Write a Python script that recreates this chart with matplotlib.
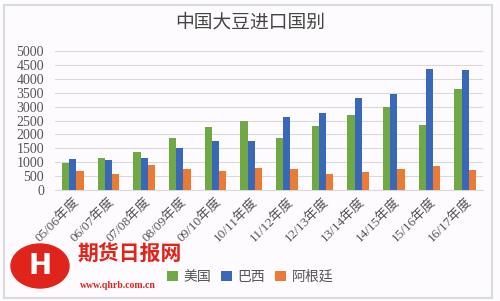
import matplotlib
matplotlib.use("Agg")
import matplotlib.pyplot as plt
import numpy as np
from matplotlib.patches import Rectangle, Ellipse

categories = ["05/06年度", "06/07年度", "07/08年度", "08/09年度", "09/10年度", "10/11年度",
              "11/12年度", "12/13年度", "13/14年度", "14/15年度", "15/16年度", "16/17年度"]
usa = [960, 1140, 1370, 1860, 2260, 2500, 1860, 2300, 2690, 2980, 2350, 3640]
brazil = [1120, 1080, 1160, 1510, 1780, 1780, 2640, 2760, 3300, 3470, 4370, 4310]
argentina = [700, 580, 900, 740, 690, 780, 770, 560, 650, 760, 850, 730]
series_names = ["美国", "巴西", "阿根廷"]
yticks = [0, 500, 1000, 1500, 2000, 2500, 3000, 3500, 4000, 4500, 5000]

colors = ["#6FA845", "#3A68B8", "#E97B35"]
cjk = ["Noto Sans CJK SC", "DejaVu Sans"]
serif_cjk = ["Liberation Serif", "Noto Sans CJK SC"]

fig = plt.figure(figsize=(5.0, 3.01), dpi=100, facecolor="#FDFBFD")
fig.patches.append(Rectangle((0.008, 0.01), 0.975, 0.975, transform=fig.transFigure,
                             fill=False, edgecolor="#D8DCE0", lw=1.5))
ax = fig.add_axes([0.11, 1 - 190/301, (483-55)/500, (190-51)/301])
ax.set_facecolor("#FDFBFD")

x = np.arange(len(categories))
w = 0.2
for i, (vals, name) in enumerate(zip([usa, brazil, argentina], series_names)):
    ax.bar(x + (i - 1) * w, vals, width=w, color=colors[i], label=name, zorder=3)

ax.set_ylim(0, 5000)
ax.set_xlim(-0.5, len(categories) - 0.5)
ax.set_yticks(yticks)
ax.set_yticklabels([str(v) for v in yticks], family=serif_cjk, fontsize=10, color="#555555")
ax.set_xticks(x)
ax.set_xticklabels(categories, rotation=45, ha="right", rotation_mode="anchor",
                   family=serif_cjk, fontsize=9.5, color="#555555")
ax.grid(axis="y", color="#D9D9D9", lw=0.8, zorder=0)
for s in ["top", "right", "left"]:
    ax.spines[s].set_visible(False)
ax.spines["bottom"].set_color("#D9D9D9")
ax.tick_params(length=0)
ax.tick_params(axis="y", pad=8)
ax.tick_params(axis="x", pad=4)

fig.text(0.5, 1 - 22/301, "中国大豆进口国别", ha="center", va="center",
         family=cjk, fontsize=13.5, color="#444444")

ax.legend(loc="center", bbox_to_anchor=(0.5, 1 - 277/301), bbox_transform=fig.transFigure,
          ncol=3, frameon=False, prop={"family": cjk, "size": 10}, handlelength=0.8,
          handleheight=0.8, columnspacing=0.7, handletextpad=0.4, labelcolor="#555555")

# watermark logo
fig.patches.append(Ellipse((40/500, 1 - 266/301), 58/500, 44/301, transform=fig.transFigure,
                           color="#E0231B", zorder=5))
fig.text(40/500, 1 - 266/301, "H", ha="center", va="center", color="white",
         fontsize=20, fontweight="bold", family="DejaVu Sans", zorder=6)
fig.text(78/500, 1 - 254/301, "期货日报网", ha="left", va="center", color="#E0231B",
         fontsize=15, fontweight="bold", family=cjk, zorder=6)
fig.text(80/500, 1 - 286/301, "www.qhrb.com.cn", ha="left", va="center", color="#E0231B",
         fontsize=7, fontweight="bold", family="Liberation Serif", zorder=6)

fig.savefig("out.png", dpi=100, facecolor=fig.get_facecolor())
